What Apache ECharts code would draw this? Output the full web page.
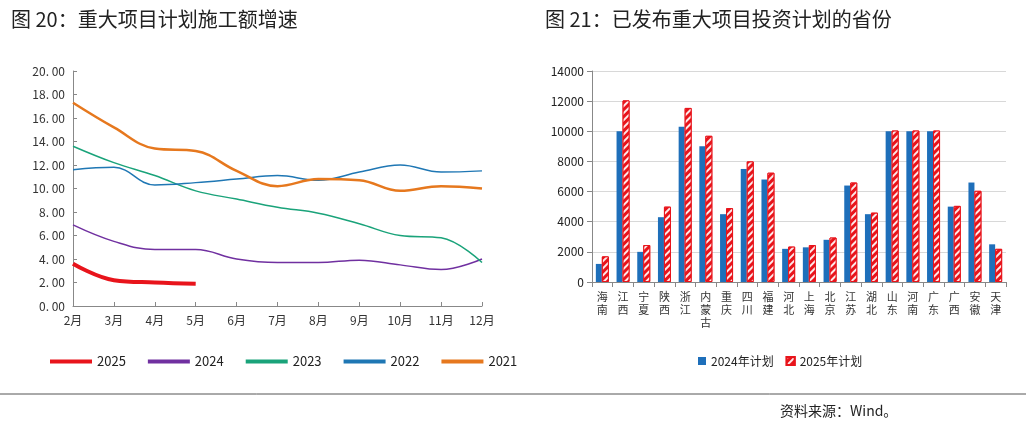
<!DOCTYPE html>
<html lang="zh">
<head>
<meta charset="UTF-8"/>
<title>重大项目</title>
<script src="https://cdn.jsdelivr.net/npm/echarts@6/dist/echarts.min.js"></script>
<style>body{margin:0;background:#fff}#main{width:1026px;height:433px}</style>
</head>
<body>
<div id="main"></div>
<script>
// 图20 数据
var months = ['2月','3月','4月','5月','6月','7月','8月','9月','10月','11月','12月'];
var y2025 = [3.6, 2.2, 2.0, 1.9];
var y2024 = [6.9, 5.5, 4.8, 4.8, 4.0, 3.7, 3.7, 3.9, 3.5, 3.1, 4.0];
var y2023 = [13.6, 12.2, 11.1, 9.8, 9.1, 8.4, 7.9, 7.0, 6.0, 5.8, 3.7];
var y2022 = [11.6, 11.8, 10.3, 10.5, 10.8, 11.1, 10.7, 11.4, 12.0, 11.4, 11.5];
var y2021 = [17.3, 15.2, 13.4, 13.2, 11.5, 10.2, 10.8, 10.7, 9.8, 10.2, 10.0];
// 图21 数据
var provinces = ['海南','江西','宁夏','陕西','浙江','内蒙古','重庆','四川','福建','河北','上海','北京','江苏','湖北','山东','河南','广东','广西','安徽','天津'];
var plan2024 = [1200,10000,2000,4300,10300,9000,4500,7500,6800,2200,2300,2800,6400,4500,10000,10000,10000,5000,6600,2500];
var plan2025 = [1700,12050,2450,5000,11550,9700,4900,8000,7250,2350,2450,2950,6600,4600,10050,10050,10050,5050,6050,2200];

var font = 'Noto Sans CJK SC';
var chart = echarts.init(document.getElementById('main'));
function line(name, data, color, w) {
    return {name: name, type: 'line', data: data, smooth: 0.4, symbol: 'none',
        lineStyle: {color: color, width: w}, itemStyle: {color: color}};
}
chart.setOption({
    textStyle: {fontFamily: font},
    animation: false,
    title: [
        {text: '图 20：重大项目计划施工额增速', left: 6, top: 4, textStyle: {fontSize: 20, fontWeight: 'normal', color: '#222', fontFamily: font}},
        {text: '图 21：已发布重大项目投资计划的省份', left: 540, top: 4, textStyle: {fontSize: 20, fontWeight: 'normal', color: '#222', fontFamily: font}}
    ],
    legend: [
        {data: ['2025','2024','2023','2022','2021'], left: 45, top: 350, itemWidth: 42, itemHeight: 4, itemGap: 22,
            icon: 'rect', textStyle: {fontSize: 13, color: '#222'}},
        {data: ['2024年计划','2025年计划'], left: 693, top: 350, itemWidth: 8, itemHeight: 8, itemGap: 12,
            icon: 'rect', textStyle: {fontSize: 12, color: '#222'}}
    ],
    grid: [
        {left: 73, top: 71, width: 409, height: 235},
        {left: 592, top: 71, width: 414, height: 211}
    ],
    xAxis: [
        {gridIndex: 0, type: 'category', data: months, boundaryGap: false,
            axisLine: {lineStyle: {color: '#888'}}, axisTick: {inside: true, length: 4, lineStyle: {color: '#888'}},
            axisLabel: {color: '#333', fontSize: 12, margin: 8}},
        {gridIndex: 1, type: 'category', data: provinces,
            axisLine: {lineStyle: {color: '#888'}}, axisTick: {show: true, lineStyle: {color: '#888'}},
            axisLabel: {color: '#333', fontSize: 11, interval: 0, lineHeight: 13,
                formatter: function (v) { return v.split('').join('\n'); }}}
    ],
    yAxis: [
        {gridIndex: 0, type: 'value', min: 0, max: 20, interval: 2,
            axisLine: {show: true, lineStyle: {color: '#888'}}, axisTick: {show: true, inside: true, length: 4},
            splitLine: {show: false},
            axisLabel: {color: '#333', fontSize: 12, formatter: function (v) { return v.toFixed(2).replace('.', '. '); }}},
        {gridIndex: 1, type: 'value', min: 0, max: 14000, interval: 2000,
            axisLine: {show: true, lineStyle: {color: '#888'}}, axisTick: {show: true, lineStyle: {color: '#888'}},
            splitLine: {lineStyle: {color: '#d8d8d8'}},
            axisLabel: {color: '#222', fontSize: 12, formatter: function (v) { return String(v); }}}
    ],
    series: [
        line('2025', y2025, '#e8141b', 4),
        line('2024', y2024, '#7030a0', 1.5),
        line('2023', y2023, '#1aa37a', 1.5),
        line('2022', y2022, '#1f77b4', 1.5),
        line('2021', y2021, '#e6781e', 2.5),
        {name: '2024年计划', type: 'bar', xAxisIndex: 1, yAxisIndex: 1, data: plan2024,
            barWidth: 6, barGap: '0%', itemStyle: {color: '#1e6fba'}},
        {name: '2025年计划', type: 'bar', xAxisIndex: 1, yAxisIndex: 1, data: plan2025,
            barWidth: 7, itemStyle: {color: '#e8141b', borderColor: '#e8141b', borderWidth: 1,
                decal: {symbol: 'rect', symbolSize: 1, color: 'rgba(255,255,255,0.9)', rotation: -Math.PI / 4, dashArrayX: [1, 0], dashArrayY: [2, 3]}}}
    ],
    graphic: [
        {type: 'line', shape: {x1: 0, y1: 394, x2: 1026, y2: 394}, style: {stroke: '#555', lineWidth: 1}},
        {type: 'text', left: 780, top: 404, style: {text: '资料来源：Wind。', font: '14px ' + font, fill: '#222'}}
    ]
});
</script>
</body>
</html>
